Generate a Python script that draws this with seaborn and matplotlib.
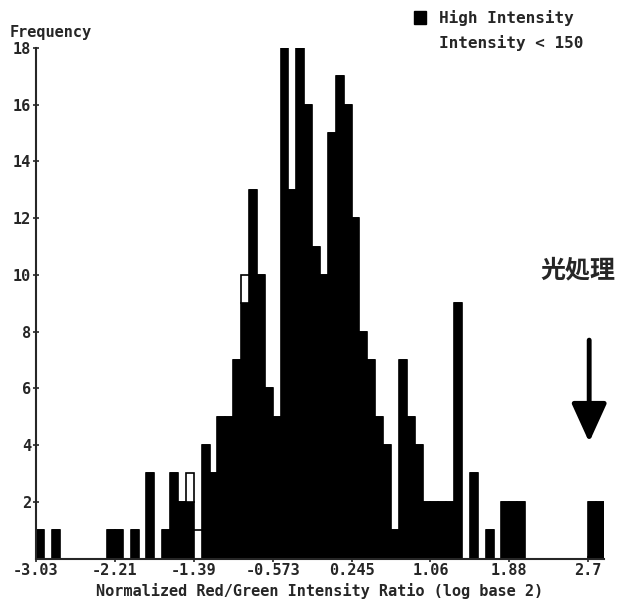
import numpy as np
import pandas as pd
import matplotlib
matplotlib.use("Agg")
import matplotlib.pyplot as plt
from matplotlib.patches import Patch
import seaborn as sns

# counts per bin (72 bins, width 0.0819, starting at -3.03)
high_counts = [1, 0, 1, 0, 0, 0, 0, 0, 0, 1,
               1, 0, 1, 0, 3, 0, 1, 3, 2, 2,
               0, 4, 3, 5, 5, 7, 9, 13, 10, 6,
               5, 18, 13, 18, 16, 11, 10, 15, 17, 16,
               12, 8, 7, 5, 4, 1, 7, 5, 4, 2,
               2, 2, 2, 9, 0, 3, 0, 1, 0, 2,
               2, 2, 0, 0, 0, 0, 0, 0, 0, 0,
               2, 2]
low_counts = [0] * 72
low_counts[19] = 1
low_counts[20] = 1
low_counts[26] = 1

x_ticklabels = ["-3.03", "-2.21", "-1.39", "-0.573", "0.245", "1.06", "1.88", "2.7"]
y_ticks = [2, 4, 6, 8, 10, 12, 14, 16, 18]

x_start, x_tick_end = -3.03, 2.7
width = (x_tick_end - x_start) / 70
edges = x_start + width * np.arange(len(high_counts) + 1)
centers = (edges[:-1] + edges[1:]) / 2

df = pd.concat([
    pd.DataFrame({"ratio": centers, "count": high_counts, "group": "High Intensity"}),
    pd.DataFrame({"ratio": centers, "count": low_counts, "group": "Intensity < 150"}),
])

sns.set_style("ticks")
mono = ["DejaVu Sans Mono"]

fig = plt.figure(figsize=(6.2, 6.03), dpi=100)
ax = fig.add_axes([36 / 620, 44.5 / 603, 568 / 620, 510.5 / 603])

# last hue level ends up at the bottom of the stack
sns.histplot(data=df, x="ratio", weights="count", hue="group",
             hue_order=["Intensity < 150", "High Intensity"],
             palette={"High Intensity": "black", "Intensity < 150": "white"},
             binwidth=width, binrange=(edges[0], edges[-1]),
             multiple="stack", edgecolor="black", linewidth=1.2,
             alpha=1, legend=False, ax=ax)

ax.set_xlim(edges[0], edges[-1])
ax.set_ylim(0, 18)
ax.set_xticks(edges[0:71:10])
ax.set_xticklabels(x_ticklabels, family=mono, fontsize=11, fontweight="bold")
ax.set_yticks(y_ticks)
ax.set_yticklabels([str(t) for t in y_ticks], family=mono, fontsize=11, fontweight="bold")
ax.tick_params(direction="inout", length=5, width=1.2, pad=1)
ax.set_xlabel("Normalized Red/Green Intensity Ratio (log base 2)",
              family=mono, fontsize=11, fontweight="bold", labelpad=3)
ax.set_ylabel("")
for s in ["left", "bottom"]:
    ax.spines[s].set_linewidth(1.5)
sns.despine(ax=ax)

fig.text(10 / 620, 1 - 33 / 603, "Frequency", family=mono, fontsize=11,
         fontweight="bold", va="center", ha="left")

handles = [Patch(facecolor="black", edgecolor="black"),
           Patch(facecolor="white", edgecolor="white")]
ax.legend(handles, ["High Intensity", "Intensity < 150"],
          loc="upper left", bbox_to_anchor=(414 / 620, 1 - 10 / 603),
          bbox_transform=fig.transFigure, frameon=False, borderpad=0,
          borderaxespad=0, handlelength=0.75, handleheight=0.8,
          handletextpad=0.8, labelspacing=0.55,
          prop={"family": mono, "size": 11.5, "weight": "bold"})

fig.text(578 / 620, 1 - 270 / 603, "光処理", family=["Noto Sans CJK JP", "DejaVu Sans"],
         fontsize=18, fontweight="bold", ha="center", va="center")
ax.annotate("", xy=(2.71, 4.1), xytext=(2.71, 7.7),
            arrowprops=dict(arrowstyle="-|>,head_length=1.1,head_width=0.5",
                            color="black", lw=3.5, mutation_scale=21.6,
                            shrinkA=0, shrinkB=0))

fig.savefig("out.png", dpi=100, facecolor="white")
